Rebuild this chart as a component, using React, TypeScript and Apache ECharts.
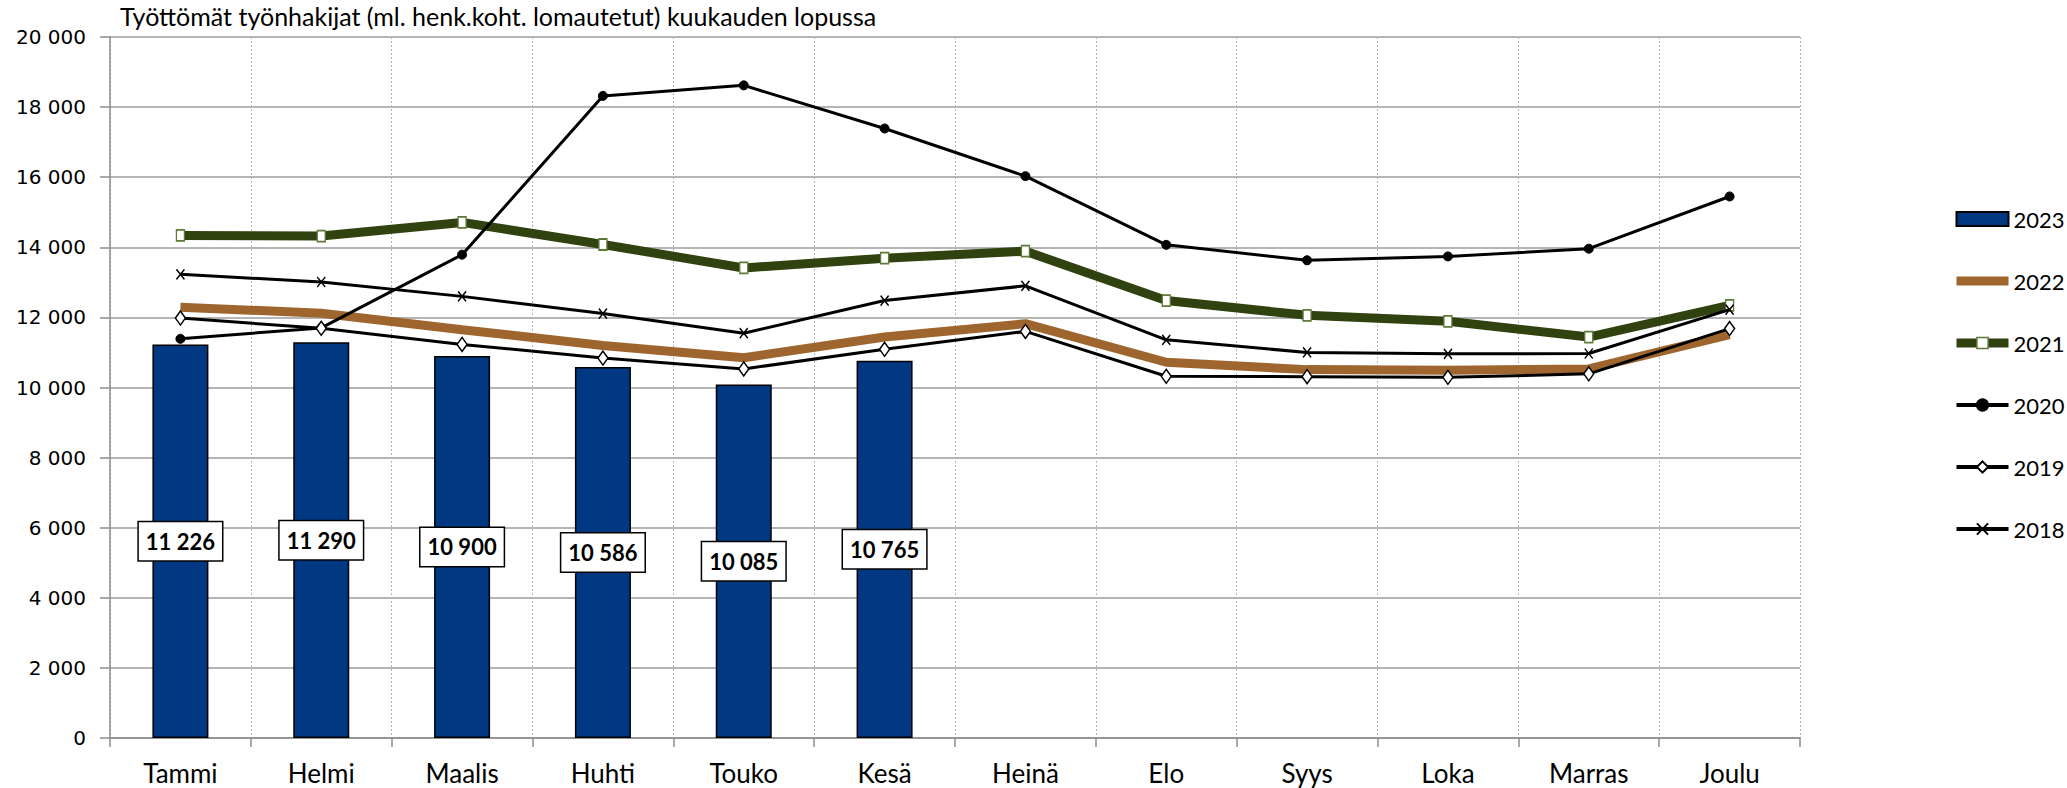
import React, { useEffect, useRef } from "react";
import * as echarts from "echarts";

const titleText = "Työttömät työnhakijat (ml. henk.koht. lomautetut) kuukauden lopussa";
const months = ["Tammi", "Helmi", "Maalis", "Huhti", "Touko", "Kesä", "Heinä", "Elo", "Syys", "Loka", "Marras", "Joulu"];
const seriesNames = ["2023", "2022", "2021", "2020", "2019", "2018"];

const v2023 = [11226, 11290, 10900, 10586, 10085, 10765];
const v2022 = [12290, 12120, 11650, 11200, 10850, 11440, 11820, 10720, 10510, 10490, 10530, 11510];
const v2021 = [14340, 14320, 14710, 14080, 13410, 13690, 13890, 12480, 12060, 11890, 11440, 12340];
const v2020 = [11390, 11700, 13790, 18320, 18620, 17390, 16030, 14070, 13630, 13740, 13960, 15450];
const v2019 = [11980, 11690, 11230, 10840, 10530, 11090, 11600, 10320, 10310, 10290, 10390, 11680];
const v2018 = [13230, 13010, 12600, 12110, 11550, 12480, 12900, 11360, 11000, 10960, 10970, 12220];

const yMin = 0;
const yMax = 20000;
const yStep = 2000;

const fmt = (v: number) => String(v).replace(/\B(?=(\d{3})+(?!\d))/g, " ");

const BROWN = "#9e662e";
const GREEN = "#2f420f";
const GREEN_EDGE = "#5d7a36";
const NAVY = "#003882";
const XMARK = "path://M0 0L10 12M10 0L0 12";

export default function App() {
  const ref = useRef<HTMLDivElement>(null);
  useEffect(() => {
    if (!ref.current) return;
    const chart = echarts.init(ref.current, null, { renderer: "svg" });
    const blackLine = (name: string, data: number[], symbol: string, symbolSize: any, itemStyle: any) => ({
      name,
      type: "line",
      data,
      symbol,
      symbolSize,
      showSymbol: true,
      lineStyle: { color: "#000", width: 3 },
      itemStyle,
      z: 5,
    });
    chart.setOption({
      animation: false,
      backgroundColor: "#fff",
      title: {
        text: titleText,
        left: 115,
        top: -2,
        textStyle: { fontFamily: "Lato", fontSize: 25, fontWeight: "normal", color: "#000" },
      },
      legend: {
        orient: "vertical",
        left: 1947,
        top: 203,
        itemWidth: 52,
        itemHeight: 14,
        itemGap: 40,
        textStyle: { fontFamily: "Lato", fontSize: 22, lineHeight: 20, color: "#000" },
        data: [
          { name: "2023", icon: "rect", itemStyle: { color: NAVY, borderColor: "#000", borderWidth: 2 } },
          {
            name: "2022",
            lineStyle: { color: BROWN, width: 9 },
            itemStyle: { color: "rgba(0,0,0,0)", borderWidth: 0, opacity: 0 },
          },
          {
            name: "2021",
            lineStyle: { color: GREEN, width: 9 },
            itemStyle: { color: "#fff", borderColor: GREEN_EDGE, borderWidth: 1.5 },
          },
          { name: "2020", lineStyle: { color: "#000", width: 4 } },
          { name: "2019", lineStyle: { color: "#000", width: 4 } },
          { name: "2018", lineStyle: { color: "#000", width: 4 } },
        ],
      },
      grid: { left: 110, right: 267, top: 37, bottom: 50, containLabel: false },
      xAxis: {
        type: "category",
        data: months,
        boundaryGap: true,
        axisLine: { show: true, lineStyle: { color: "#8c8c8c", width: 1.5 } },
        axisTick: { show: true, length: 9, lineStyle: { color: "#8c8c8c", width: 1.5 } },
        axisLabel: { fontFamily: "Lato", fontSize: 26, color: "#000", margin: 22 },
        splitLine: { show: true, lineStyle: { color: "#b4b4b4", width: 1, type: [2, 2] } },
      },
      yAxis: {
        type: "value",
        min: yMin,
        max: yMax,
        interval: yStep,
        axisLine: { show: true, lineStyle: { color: "#8c8c8c", width: 1.5 } },
        axisTick: { show: true, length: 10, lineStyle: { color: "#8c8c8c", width: 1.5 } },
        axisLabel: {
          fontFamily: "DejaVu Sans",
          fontSize: 20,
          color: "#000",
          margin: 24,
          formatter: (v: number) => fmt(v),
        },
        splitLine: { show: true, lineStyle: { color: "#9c9c9c", width: 1.5 } },
      },
      series: [
        {
          name: seriesNames[0],
          type: "bar",
          data: v2023,
          barWidth: 56,
          itemStyle: { color: NAVY, borderColor: "#000", borderWidth: 1.5 },
          label: {
            show: true,
            position: "inside",
            formatter: (p: any) => fmt(p.value),
            fontFamily: "Lato",
            fontWeight: "bold",
            fontSize: 22,
            lineHeight: 22,
            color: "#000",
            backgroundColor: "#fff",
            borderColor: "#000",
            borderWidth: 1.5,
            padding: [8, 7, 8, 7],
          },
          z: 2,
        },
        {
          name: seriesNames[1],
          type: "line",
          data: v2022,
          symbol: "none",
          lineStyle: { color: BROWN, width: 9 },
          itemStyle: { color: BROWN },
          z: 3,
        },
        {
          name: seriesNames[2],
          type: "line",
          data: v2021,
          symbol: "rect",
          symbolSize: [8, 11],
          lineStyle: { color: GREEN, width: 9 },
          itemStyle: { color: "#fff", borderColor: GREEN_EDGE, borderWidth: 1.5 },
          z: 4,
        },
        blackLine(seriesNames[3], v2020, "circle", 9, { color: "#000", borderColor: "#000", borderWidth: 1 }),
        blackLine(seriesNames[4], v2019, "diamond", [10, 14], { color: "#fff", borderColor: "#000", borderWidth: 1.5 }),
        blackLine(seriesNames[5], v2018, XMARK, [8, 10], {
          color: "#000",
          borderColor: "#000",
          borderWidth: 1.5,
        }),
      ],
    });
    return () => chart.dispose();
  }, []);
  return (
    <div
      ref={ref}
      style={{ position: "fixed", left: 0, top: 0, width: 2067, height: 788, background: "#fff" }}
    />
  );
}
